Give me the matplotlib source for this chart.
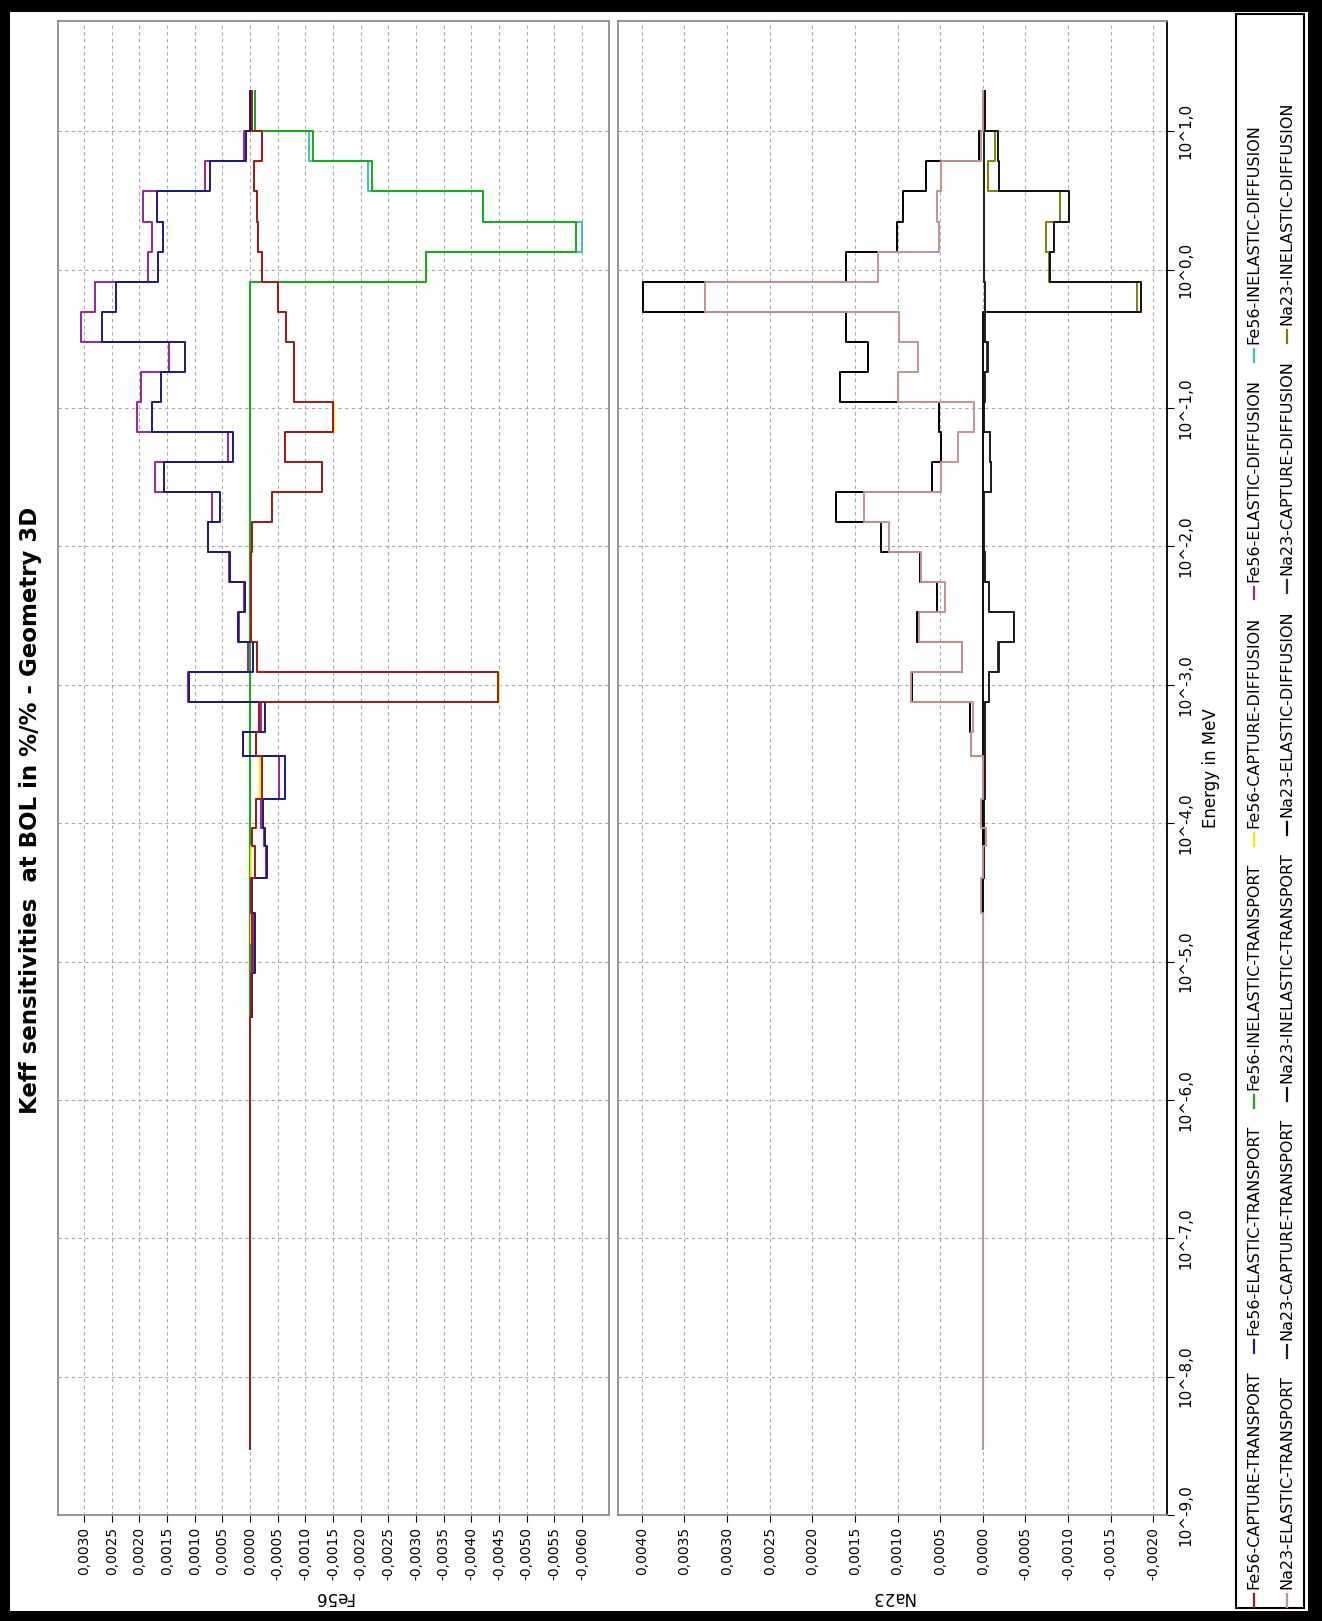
import numpy as np
import matplotlib
matplotlib.use("Agg")
import matplotlib.pyplot as plt
from matplotlib import font_manager
from matplotlib.lines import Line2D
from matplotlib.patches import Rectangle
from matplotlib.ticker import FixedLocator, NullLocator, MultipleLocator, FuncFormatter

# 33-group energy structure (MeV), upper bound of group 1 down to the lowest bound
bounds = [19.64, 10.0, 6.0653, 3.6788, 2.2313, 1.3534, 0.82085, 0.49787, 0.30197,
          0.18316, 0.11109, 0.067379, 0.040868, 0.024788, 0.015034, 0.0091188,
          0.0055308, 0.0033546, 0.0020347, 0.0012341, 7.4852e-4, 4.5400e-4,
          3.0433e-4, 1.4863e-4, 9.1661e-5, 6.7904e-5, 4.0169e-5, 2.2603e-5,
          1.3710e-5, 8.3153e-6, 4.0e-6, 5.4e-7, 1.0e-7, 3.0e-9]
energy_ticks = [1e-9, 1e-8, 1e-7, 1e-6, 1e-5, 1e-4, 1e-3, 1e-2, 1e-1, 1e0, 1e1]

# Fe56 sensitivities per group
fe_capt_tr = [-3e-5, -2.2e-4, -6.5e-5, -1.2e-4, -1.5e-4, -2.1e-4, -5.1e-4, -6.6e-4, -7.9e-4,
              -7.9e-4, -1.50e-3, -6.4e-4, -1.30e-3, -4.0e-4, -3e-5, -2e-5, -2e-5, -2e-5,
              -1.2e-4, -4.48e-3, -1.7e-4, -1.0e-4, -2.1e-4, -1.0e-4, -3e-5, -9e-5, -2e-5,
              -4e-5, -3e-5, -2e-5, 0.0, 0.0, 0.0]
fe_el_tr = [0.0, 6.5e-5, 7.3e-4, 1.68e-3, 1.57e-3, 1.66e-3, 2.42e-3, 2.68e-3, 1.18e-3,
            1.60e-3, 1.78e-3, 3.0e-4, 1.55e-3, 5.4e-4, 7.5e-4, 3.7e-4, 9.7e-5, 2.1e-4,
            -6e-5, 1.10e-3, -2.7e-4, 1.35e-4, -6.4e-4, -2.4e-4, -2.7e-4, -3.0e-4, -3e-5,
            -9e-5, -9e-5, -3e-5]
fe_inel_tr = [-9e-5, -1.14e-3, -2.21e-3, -4.22e-3, -5.90e-3, -3.19e-3, 0.0, 0.0, 0.0, 0.0,
              0.0, 0.0, 0.0, 0.0, 0.0, 0.0, 0.0, 0.0, 0.0, 0.0, 0.0, 0.0, 0.0, 0.0, 0.0,
              0.0, 0.0, 0.0, 0.0, 0.0]
fe_capt_diff = [-3e-5, -2.2e-4, -6.5e-5, -1.2e-4, -1.5e-4, -2.1e-4, -5.1e-4, -6.6e-4, -7.9e-4,
                -7.9e-4, -1.52e-3, -6.4e-4, -1.30e-3, -4.0e-4, -3e-5, -2e-5, -2e-5, -2e-5,
                -1.2e-4, -4.50e-3, -1.7e-4, -1.0e-4, -1.9e-4, -1.0e-4, -3e-5, -1e-5, -2e-5,
                -1e-5, -3e-5, -2e-5]
fe_el_diff = [0.0, 1.0e-4, 8.1e-4, 1.94e-3, 1.78e-3, 1.84e-3, 2.81e-3, 3.05e-3, 1.47e-3,
              1.97e-3, 2.05e-3, 3.9e-4, 1.72e-3, 6.9e-4, 7.5e-4, 3.8e-4, 1.0e-4, 2.0e-4,
              4e-5, 1.12e-3, -2.0e-4, 1.2e-4, -5.3e-4, -2.0e-4, -2.6e-4, -2.9e-4, -2e-5,
              -8e-5, -8e-5, -2e-5]
fe_inel_diff = [-9e-5, -1.06e-3, -2.13e-3, -4.21e-3, -6.00e-3, -3.19e-3, 0.0, 0.0, 0.0, 0.0,
                0.0, 0.0, 0.0, 0.0, 0.0, 0.0, 0.0, 0.0, 0.0, 0.0, 0.0, 0.0, 0.0, 0.0, 0.0,
                0.0, 0.0, 0.0, 0.0, 0.0]

# Na23 sensitivities per group
na_el_tr = [0.0, 2e-5, 4.9e-4, 5.4e-4, 5.1e-4, 1.23e-3, 3.26e-3, 9.8e-4, 7.6e-4, 1.0e-3,
            1.0e-4, 2.9e-4, 4.9e-4, 1.39e-3, 1.10e-3, 7.2e-4, 4.5e-4, 7.5e-4, 2.5e-4,
            8.4e-4, 1.2e-4, 1.4e-4, 0.0, 2e-5, -4e-5, 0.0, 2e-5, 0.0, 0.0, 0.0, 0.0, 0.0, 0.0]
na_capt_tr = [-1e-5, -1e-5, -1e-5, -1e-5, -1e-5, -1e-5, -2e-5, -2e-5, -5.5e-5, -3e-5, -1e-5,
              -8.5e-5, -1.0e-4, -1e-5, -1e-5, -3e-5, -7.7e-5, -3.7e-4, -1.9e-4, -7.7e-5,
              -3e-5, -2e-5, -3e-5, -1e-5, -1e-5, -1e-5, 0.0]
na_inel_tr = [-2e-5, -1.8e-4, -1.9e-4, -1.01e-3, -8.4e-4, -7.9e-4, -1.86e-3, 0.0, 0.0, 0.0,
              0.0, 0.0, 0.0, 0.0, 0.0, 0.0, 0.0, 0.0, 0.0, 0.0, 0.0, 0.0, 0.0, 0.0, 0.0,
              0.0, 0.0]
na_el_diff = [0.0, 5e-5, 6.7e-4, 9.4e-4, 1.01e-3, 1.60e-3, 3.99e-3, 1.60e-3, 1.35e-3, 1.67e-3,
              5.2e-4, 4.9e-4, 6.0e-4, 1.72e-3, 1.19e-3, 7.4e-4, 5.4e-4, 7.7e-4, 2.5e-4,
              8.3e-4, 1.5e-4, 1.4e-4, 0.0, 1e-5, 0.0, 0.0, 1e-5]
na_capt_diff = [-1e-5, -1e-5, -1e-5, -1e-5, -1e-5, -1e-5, -2e-5, -1e-5, -5e-5, -3e-5, -1e-5,
                -8e-5, -9e-5, -1e-5, -1e-5, -2e-5, -7e-5, -3.6e-4, -1.8e-4, -7e-5,
                -3e-5, -2e-5, -3e-5, -1e-5, -1e-5, -1e-5, 0.0]
na_inel_diff = [-2e-5, -1.4e-4, -5.5e-5, -9.0e-4, -7.4e-4, -7.7e-4, -1.81e-3, 0.0, 0.0, 0.0,
                0.0, 0.0, 0.0, 0.0, 0.0, 0.0, 0.0, 0.0, 0.0, 0.0, 0.0, 0.0, 0.0, 0.0, 0.0,
                0.0, 0.0]

legend_row1 = ["Fe56-CAPTURE-TRANSPORT", "Fe56-ELASTIC-TRANSPORT", "Fe56-INELASTIC-TRANSPORT",
               "Fe56-CAPTURE-DIFFUSION", "Fe56-ELASTIC-DIFFUSION", "Fe56-INELASTIC-DIFFUSION"]
legend_row2 = ["Na23-ELASTIC-TRANSPORT", "Na23-CAPTURE-TRANSPORT", "Na23-INELASTIC-TRANSPORT",
               "Na23-ELASTIC-DIFFUSION", "Na23-CAPTURE-DIFFUSION", "Na23-INELASTIC-DIFFUSION"]
colors_row1 = ["#a01818", "#1a1a80", "#10b010", "#f0f000", "#a020a0", "#40c0c0"]
colors_row2 = ["#c89090", "#202020", "#101010", "#000000", "#303030", "#808000"]

W, H = 1322, 1621
available = {f.name for f in font_manager.fontManager.ttflist}
NARROW = "Liberation Sans Narrow" if "Liberation Sans Narrow" in available else "DejaVu Sans"


def step_xy(values):
    """Vertical step path of a group-wise series (value on x, energy on y)."""
    n = len(values)
    y = np.repeat(np.array(bounds[:n + 1]), 2)[1:-1]
    x = np.repeat(np.array(values), 2)
    return x, y


def value_label(v, pos):
    if abs(v) < 1e-12:
        v = 0.0
    return f"{v:.4f}".replace(".", ",")


def setup_panel(ax, xlim, name):
    ax.set_yscale("log")
    ax.set_ylim(1e-9, 10 ** 1.8)
    ax.set_xlim(*xlim)
    ax.yaxis.set_major_locator(FixedLocator(energy_ticks))
    ax.yaxis.set_minor_locator(NullLocator())
    ax.xaxis.set_major_locator(MultipleLocator(0.0005))
    ax.xaxis.set_major_formatter(FuncFormatter(value_label))
    ax.grid(True, color="#a8a8a8", linestyle=(0, (3, 3)), linewidth=0.8)
    ax.tick_params(axis="x", direction="out", length=5, labelsize=10, labelrotation=90,
                   bottom=True, top=False)
    for s in ax.spines.values():
        s.set_color("#8c8c8c")
        s.set_linewidth(1.3)
    ax.set_xlabel(name, rotation=180, fontsize=12, labelpad=6)


fig = plt.figure(figsize=(W / 100, H / 100), dpi=100, facecolor="black")
fig.patches.append(Rectangle((10 / W, 1 - 1611 / H), 1298 / W, 1599 / H,
                             transform=fig.transFigure, facecolor="white",
                             edgecolor="none", zorder=-1))

ax1 = fig.add_axes([58 / W, 1 - 1515 / H, 550.5 / W, (1515 - 20.7) / H])
ax2 = fig.add_axes([618 / W, 1 - 1515 / H, 549 / W, (1515 - 20.7) / H])

setup_panel(ax1, (0.00347, -0.00648), "Fe56")
setup_panel(ax2, (0.00428, -0.00216), "Na23")

ax1.tick_params(axis="y", left=False, right=False, labelleft=False)
ax2.tick_params(axis="y", left=False, right=True, labelleft=False, labelright=True,
                direction="out", length=5, labelsize=11, labelrotation=90)
ax2.yaxis.set_major_formatter(FuncFormatter(lambda v, p: f"10^{int(round(np.log10(v)))},0"))
for lab in ax2.get_yticklabels():
    lab.set_fontfamily(NARROW)
    lab.set_verticalalignment("center")
ax2.spines["right"].set_color("black")
ax2.yaxis.set_label_position("right")
ax2.set_ylabel("Energy in MeV", fontsize=12, family=NARROW, labelpad=6)

# Fe56 series (drawing order keeps overlapping lines visible like the original)
fe_series = [(fe_inel_diff, colors_row1[5]), (fe_inel_tr, colors_row1[2]),
             (fe_capt_diff, colors_row1[3]), (fe_el_diff, colors_row1[4]),
             (fe_el_tr, colors_row1[1]), (fe_capt_tr, colors_row1[0])]
for vals, col in fe_series:
    x, y = step_xy(vals)
    ax1.plot(x, y, color=col, lw=1.4)

na_series = [(na_capt_diff, colors_row2[4]), (na_capt_tr, colors_row2[1]),
             (na_inel_diff, colors_row2[5]), (na_inel_tr, colors_row2[2]),
             (na_el_diff, colors_row2[3]), (na_el_tr, colors_row2[0])]
for vals, col in na_series:
    x, y = step_xy(vals)
    ax2.plot(x, y, color=col, lw=1.4)

fig.text(31 / W, 0.5, "Keff sensitivities  at BOL in %/% - Geometry 3D", rotation=90,
         ha="center", va="center", fontsize=16.5, fontweight="bold", family=NARROW)

# legend drawn by hand, rotated like the rest of the chart
fig.patches.append(Rectangle((1236 / W, 1 - 1608 / H), 68 / W, 1594 / H,
                             transform=fig.transFigure, facecolor="white",
                             edgecolor="black", linewidth=1.5, zorder=1))
renderer = fig.canvas.get_renderer()


def legend_row(labels, colors, x_px):
    y = 14.0
    for lab, col in zip(labels, colors):
        fig.add_artist(Line2D([x_px / W, x_px / W], [y / H, (y + 13) / H],
                              transform=fig.transFigure, color=col, lw=1.6))
        t = fig.text(x_px / W, (y + 18) / H, lab, rotation=90, rotation_mode="anchor",
                     ha="left", va="center", fontsize=11.5, family=NARROW)
        ext = t.get_window_extent(renderer=renderer)
        y = y + 18 + ext.height + 17


legend_row(legend_row1, colors_row1, 1254)
legend_row(legend_row2, colors_row2, 1287)

fig.savefig("out.png", dpi=100, facecolor=fig.get_facecolor())
